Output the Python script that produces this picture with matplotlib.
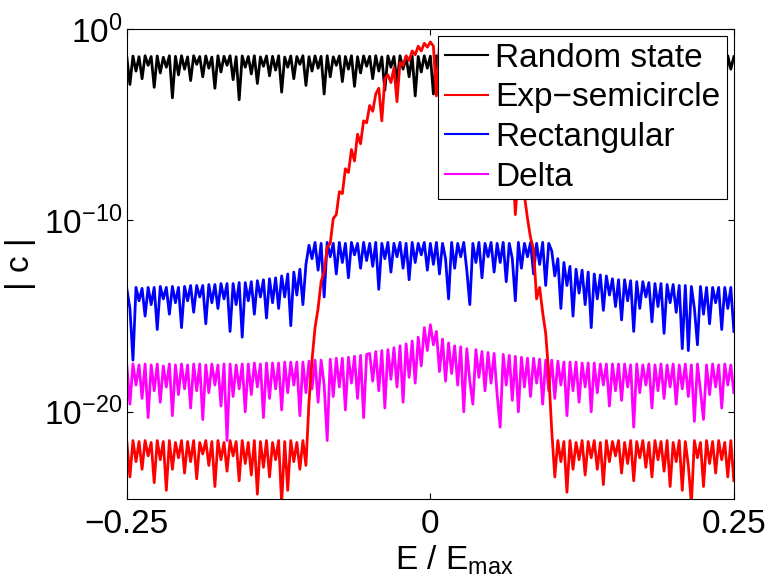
import numpy as np
import matplotlib
matplotlib.use('Agg')
import matplotlib.pyplot as plt
from matplotlib.ticker import NullLocator

plt.rcParams['font.family'] = ['Liberation Sans', 'DejaVu Sans']
plt.rcParams['mathtext.fontset'] = 'custom'
plt.rcParams['mathtext.rm'] = 'Liberation Sans'
plt.rcParams['mathtext.it'] = 'Liberation Sans:italic'

# log10 |c|, E/Emax from -0.25 to 0.25 in steps of 0.0025
random_state = [
    -1.50,-2.90,-1.42,-2.20,-1.45,-2.60,-1.40,-1.90,-1.44,-3.05,-1.41,-2.30,-1.48,-2.00,-1.40,-3.60,-1.43,-2.40,-1.40,-2.10,
    -1.46,-2.70,-1.40,-1.85,-1.44,-2.50,-1.41,-2.05,-1.47,-3.10,-1.40,-2.25,-1.43,-1.90,-1.40,-2.65,-1.45,-3.70,-1.41,-2.00,
    -1.44,-2.35,-1.40,-2.85,-1.46,-1.95,-1.41,-2.45,-1.43,-2.15,-1.40,-3.30,-1.47,-2.00,-1.41,-2.60,-1.44,-1.85,-1.40,-2.95,
    -1.45,-2.20,-1.41,-2.05,-1.43,-3.40,-1.40,-2.50,-1.46,-1.90,-1.41,-2.75,-1.44,-2.10,-1.40,-3.00,-1.45,-2.30,-1.41,-1.95,
    -1.43,-2.60,-1.40,-2.20,-1.46,-3.20,-1.41,-2.00,-1.44,-2.80,-1.40,-2.10,-1.47,-2.50,-1.41,-3.50,-1.44,-2.25,-1.40,-2.05,
    -1.42,-3.40,-1.40,-2.30,-1.45,-2.70,-1.41,-1.95,-1.44,-2.90,-1.40,-2.15,-1.46,-2.40,-1.41,-3.15,-1.43,-2.00,-1.40,-2.60,
    -1.45,-2.10,-1.41,-2.85,-1.44,-1.90,-1.40,-3.25,-1.46,-2.30,-1.41,-2.05,-1.43,-2.70,-1.40,-2.20,-1.45,-3.55,-1.41,-1.95,
    -1.44,-2.50,-1.40,-2.15,-1.46,-2.95,-1.41,-2.00,-1.43,-3.30,-1.40,-2.40,-1.47,-1.90,-1.41,-2.65,-1.44,-2.20,-1.40,-3.00,
    -1.45,-2.05,-1.41,-2.60,-1.43,-3.45,-1.40,-2.10,-1.46,-2.35,-1.41,-1.95,-1.44,-2.80,-1.40,-2.25,-1.45,-3.10,-1.41,-2.00,
    -1.43,-2.70,-1.40,-2.15,-1.46,-1.90,-1.41,-3.20,-1.44,-2.40,-1.40,-2.05,-1.47,-2.85,-1.41,-2.20,-1.44,-3.35,-1.40,-2.10,
    -1.45]

exp_semicircle = [
    -21.6,-23.4,-21.5,-22.6,-21.55,-23.0,-21.5,-22.3,-21.6,-23.7,-21.5,-22.5,-21.55,-24.1,-21.5,-23.0,-21.6,-22.4,-21.5,-23.2,
    -21.55,-22.6,-21.5,-23.5,-21.6,-22.2,-21.5,-22.8,-21.55,-23.9,-21.5,-22.5,-21.6,-23.1,-21.5,-22.3,-21.55,-23.6,-21.5,-22.7,
    -21.6,-23.3,-21.5,-24.3,-21.55,-22.9,-21.5,-23.4,-21.6,-22.5,-21.5,-24.8,-21.55,-24.1,-21.5,-22.6,-21.6,-23.0,-21.5,-22.8,
    -19.5,-17.3,-15.6,-14.6,-13.2,-12.7,-11.4,-11.2,-9.9,-9.7,-8.5,-8.6,-7.3,-7.5,-6.3,-6.9,-5.5,-6.0,-4.8,-4.9,
    -4.0,-4.3,-3.4,-3.1,-4.8,-2.6,-2.4,-2.8,-2.05,-3.8,-1.75,-1.9,-1.4,-1.65,-1.15,-1.35,-0.9,-1.15,-0.75,-0.95,
    -0.68,-0.9,-3.5,-0.82,-1.1,-0.95,-1.2,-1.1,-1.5,-1.3,-1.75,-1.6,-2.1,-1.85,-2.6,-2.2,-2.8,-2.6,-3.5,-3.1,
    -4.1,-4.4,-4.6,-5.0,-5.3,-5.7,-6.0,-6.6,-9.7,-7.3,-7.8,-8.7,-9.9,-10.9,-11.5,-14.1,-13.5,-14.8,-15.9,-18.0,
    -21.0,-23.4,-21.5,-22.6,-21.55,-24.2,-21.5,-23.0,-21.6,-22.5,-21.5,-23.3,-21.55,-22.4,-21.5,-23.0,-21.6,-23.8,-21.5,-22.6,
    -21.55,-22.3,-21.5,-23.2,-21.6,-22.7,-21.5,-23.6,-21.55,-22.4,-21.5,-22.9,-21.6,-23.4,-21.5,-22.5,-21.55,-23.1,-21.5,-23.9,
    -21.6,-22.6,-21.5,-24.1,-21.55,-22.8,-24.8,-21.5,-22.4,-21.6,-23.9,-21.5,-22.7,-21.55,-23.2,-21.5,-22.5,-21.6,-23.4,-21.5,
    -23.6]

rectangular = [
    -13.6,-14.6,-17.3,-13.5,-14.2,-13.55,-15.0,-13.5,-14.4,-13.5,-15.7,-13.45,-14.1,-13.5,-14.9,-13.45,-14.3,-13.5,-15.6,-13.45,
    -14.2,-13.4,-14.8,-13.4,-14.0,-13.4,-15.4,-13.35,-14.3,-13.35,-14.6,-13.3,-14.1,-13.3,-15.8,-13.3,-14.4,-13.25,-16.1,-13.25,
    -14.2,-13.2,-14.9,-13.15,-14.0,-13.1,-15.1,-13.05,-14.3,-13.0,-14.6,-12.9,-14.0,-12.8,-15.5,-12.7,-13.9,-12.55,-14.4,-12.3,
    -11.3,-12.0,-11.15,-12.6,-11.2,-14.0,-11.15,-11.9,-11.2,-12.8,-11.15,-12.2,-11.2,-13.0,-11.15,-11.8,-11.2,-12.5,-11.15,-12.1,
    -11.2,-12.4,-11.15,-13.6,-11.2,-12.0,-11.15,-12.7,-11.2,-11.9,-11.15,-12.5,-11.2,-13.1,-11.15,-12.2,-11.2,-11.8,-11.15,-12.6,
    -11.2,-12.3,-11.15,-12.8,-11.2,-12.0,-14.1,-11.15,-12.5,-11.2,-11.9,-11.15,-12.6,-14.4,-11.2,-12.2,-11.15,-13.0,-11.2,-11.9,
    -11.15,-12.7,-11.2,-12.2,-11.15,-13.2,-11.2,-12.0,-14.2,-11.15,-12.5,-11.2,-11.9,-11.15,-12.8,-11.2,-12.3,-11.15,-13.4,-11.2,
    -11.6,-12.9,-12.0,-14.6,-12.2,-13.4,-12.4,-15.0,-12.55,-13.8,-12.6,-14.4,-12.7,-15.6,-12.8,-14.1,-12.85,-14.7,-12.9,-13.9,
    -13.05,-14.5,-13.1,-15.2,-13.1,-14.2,-13.15,-15.8,-13.2,-14.6,-13.2,-14.0,-13.25,-15.3,-13.3,-14.5,-13.3,-15.9,-13.35,-14.3,
    -13.35,-14.8,-13.4,-16.7,-13.4,-16.8,-13.45,-14.6,-16.5,-13.45,-14.9,-13.5,-15.4,-13.5,-14.3,-13.5,-15.7,-13.5,-14.6,-13.5,
    -15.8]

delta = [
    -17.6,-19.6,-17.5,-18.6,-17.55,-19.3,-17.5,-20.3,-17.55,-18.9,-17.5,-19.5,-17.6,-18.7,-17.5,-20.2,-17.55,-19.1,-17.5,-18.8,
    -17.55,-19.8,-17.5,-18.9,-17.5,-20.4,-17.55,-19.0,-17.5,-18.6,-17.55,-19.7,-17.5,-21.5,-17.5,-19.2,-17.55,-18.8,-17.5,-20.0,
    -17.5,-19.1,-17.45,-18.7,-17.5,-20.3,-17.45,-19.3,-17.45,-18.8,-17.45,-19.9,-17.4,-19.0,-17.4,-18.6,-17.4,-20.2,-17.4,-19.0,
    -17.35,-18.8,-17.3,-19.5,-17.3,-18.6,-21.5,-17.25,-19.2,-17.2,-18.7,-17.2,-19.9,-17.15,-18.5,-17.1,-19.3,-17.05,-20.3,-17.0,
    -16.95,-18.4,-16.85,-18.9,-16.8,-19.8,-16.75,-18.3,-16.65,-18.7,-16.55,-19.5,-16.45,-18.2,-16.3,-18.5,-16.1,-17.6,-15.6,-16.8,
    -15.45,-16.5,-15.8,-17.9,-16.2,-18.4,-16.4,-18.0,-16.55,-18.6,-16.6,-20.0,-16.7,-18.4,-19.6,-16.75,-18.2,-16.85,-18.9,-16.9,
    -18.5,-16.95,-19.1,-20.8,-17.0,-18.6,-17.05,-19.4,-17.1,-20.0,-17.15,-18.7,-17.2,-19.2,-17.2,-18.5,-17.25,-19.6,-17.3,-18.9,
    -17.3,-19.3,-17.35,-18.6,-17.4,-20.2,-17.4,-18.9,-17.4,-19.5,-17.45,-18.7,-17.45,-20.0,-17.45,-19.0,-17.5,-18.6,-17.5,-19.7,
    -17.5,-18.9,-17.5,-19.4,-17.5,-18.7,-17.55,-20.8,-17.5,-19.0,-17.55,-18.6,-17.5,-19.8,-17.55,-18.9,-17.5,-19.3,-17.55,-18.7,
    -17.5,-19.6,-17.55,-18.8,-17.5,-19.2,-17.55,-20.5,-17.5,-18.9,-20.4,-17.55,-19.1,-17.5,-18.7,-17.55,-19.8,-17.5,-18.6,-17.55,
    -19.0]

labels = ['Random state', 'Exp\u2212semicircle', 'Rectangular', 'Delta']
colors = ['black', 'red', 'blue', 'magenta']
zorders = [2.0, 2.3, 2.1, 2.2]

fig = plt.figure(figsize=(7.69, 5.87), dpi=100)
ax = fig.add_axes([0.165, 0.150, 0.7893, 0.8007])

for vals, lab, col, z in zip([random_state, exp_semicircle, rectangular, delta], labels, colors, zorders):
    E = np.linspace(-0.25, 0.25, len(vals))
    ax.plot(E, 10.0 ** np.array(vals), color=col, lw=2.0, label=lab, zorder=z)

ax.set_yscale('log')
ax.set_xlim(-0.25, 0.25)
ax.set_ylim(10 ** -24.55, 1.0)
ax.set_xticks([-0.25, 0, 0.25])
ax.set_xticklabels(['\u22120.25', '0', '0.25'])
ax.set_yticks([1e-20, 1e-10, 1e0])
ax.set_yticklabels([r'$\mathregular{10^{-20}}$', r'$\mathregular{10^{-10}}$', r'$\mathregular{10^{0}}$'])
ax.yaxis.set_minor_locator(NullLocator())
ax.tick_params(direction='in', top=True, right=True, length=4.5, width=0.8, labelsize=24)
ax.tick_params(axis='x', pad=7)
ax.tick_params(axis='y', pad=3)
for s in ax.spines.values():
    s.set_linewidth(0.8)

ax.set_xlabel('E / E$_{\\mathregular{max}}$', fontsize=24)
ax.xaxis.set_label_coords(0.539, -0.095)
ax.set_ylabel('| c |', fontsize=24)
ax.yaxis.set_label_coords(-0.15, 0.5)

leg = ax.legend(loc='upper right', bbox_to_anchor=(0.988, 0.985), borderaxespad=0,
                fontsize=24, fancybox=False, framealpha=1, edgecolor='black',
                handlelength=1.3, handletextpad=0.2, labelspacing=0.26, borderpad=0.2)
leg.get_frame().set_linewidth(0.8)
for l in leg.get_lines():
    l.set_linewidth(1.5)

fig.savefig('out.png', dpi=100)
